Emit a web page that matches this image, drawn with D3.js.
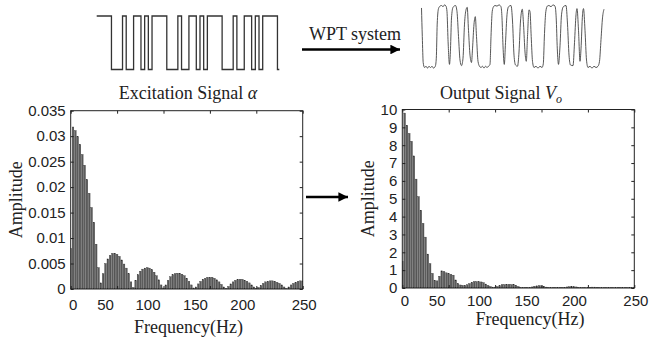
<!DOCTYPE html>
<html>
<head>
<meta charset="utf-8">
<script src="https://cdn.jsdelivr.net/npm/d3@7"></script>
<style>
  html, body { margin: 0; padding: 0; background: #fff; }
  svg { display: block; }
</style>
</head>
<body>
<svg id="fig" width="649" height="343"></svg>
<script>
// ---- data ----

// excitation signal: 15-bit sequence repeated, last bit only partly shown
const inputBits = [
  1,1,1,1,0,0,0,1,0,0,1,1,0,1,0,
  1,1,1,1,0,0,0,1,0,0,1,1,0,1,0,
  1,1,1,1,0,0,0,1,0,0,1,1,0,1,0,
  1,1,1,1,0
];
const inputShownBits = 49.5;

// measured output voltage (time in ms, voltage in V)
const outputTimeMs = [
  15,23,32,45,60,75,90,105,120,135,153,163,172,185,200,215,230,245,260,270,
  280,295,305,315,330,355,370,385,400,415,430,445,460,472,485,500,515,525,540,553,
  565,580,595,610,625,640,655,670,685,700,710,722,735,750,770,790,810,820,830,843,
  855,870,885,910,925,940,955,975,990,1005,1023,1035,1050,1063,1075,1090,1100,1112,1125,1140,
  1160,1180,1200,1220,1233,1245,1258,1273,1290,1310,1330,1350,1362,1373,1385,1400,1415,1433,1460,1475,
  1490,1505,1530,1545,1560,1570,1585,1600,1610,1625,1635,1650,1665,1680,1700,1720,1740,1760,1780,1795,
  1810,1825,1840
];
const outputVolt = [
  9.6,5.0,0.8,0.0,0.2,-0.1,0.2,0.0,0.2,-0.1,0.2,1.5,7.0,9.5,9.9,10.0,9.8,10.1,9.9,9.0,
  4.5,0.5,3.0,8.0,9.7,10.0,9.0,5.0,1.2,0.3,1.5,7.0,9.3,9.7,6.0,2.0,0.8,3.0,7.0,8.2,
  5.0,1.0,0.2,0.0,0.2,-0.1,0.2,0.0,0.2,0.5,5.0,9.0,9.8,10.0,9.9,10.1,9.8,8.0,3.5,0.5,
  4.0,8.5,9.8,10.0,7.5,2.0,0.4,0.2,2.5,7.5,9.4,7.0,2.5,1.0,5.0,9.3,9.0,5.0,1.0,0.0,
  0.2,-0.1,0.2,0.0,0.6,5.5,9.0,9.9,10.0,9.8,10.1,9.9,8.0,3.0,0.5,3.5,8.5,9.8,10.0,7.0,
  2.0,0.4,0.3,4.0,8.5,9.5,6.0,1.0,3.0,8.5,9.5,6.0,1.2,0.0,0.2,-0.1,0.2,0.0,0.2,1.0,
  4.5,8.0,9.4
];

// spectra, one bar every binHz from 0 to 250 Hz
const binHz = 2.5;
const excitationAmp = [
  0.0080,0.0318,0.0311,0.0299,0.0284,0.0264,0.0243,0.0215,0.0188,0.0160,
  0.0131,0.0088,0.0042,0.0012,0.0030,0.0050,0.0059,0.0066,0.0070,0.0070,
  0.0068,0.0064,0.0057,0.0049,0.0041,0.0030,0.0014,0.0003,0.0017,0.0028,
  0.0035,0.0039,0.0041,0.0042,0.0041,0.0038,0.0033,0.0026,0.0018,0.0008,
  0.0002,0.0008,0.0017,0.0024,0.0028,0.0030,0.0031,0.0031,0.0029,0.0026,
  0.0021,0.0015,0.0008,0.0002,0.0004,0.0010,0.0015,0.0019,0.0021,0.0023,
  0.0023,0.0023,0.0021,0.0018,0.0014,0.0009,0.0004,0.0001,0.0005,0.0010,
  0.0014,0.0017,0.0019,0.0019,0.0019,0.0017,0.0015,0.0012,0.0008,0.0004,
  0.0001,0.0003,0.0007,0.0011,0.0014,0.0015,0.0016,0.0016,0.0015,0.0013,
  0.0011,0.0008,0.0004,0.0001,0.0004,0.0008,0.0011,0.0013,0.0015,0.0016,
  0.0016
];
const outputAmp = [
  1.50,9.80,9.12,8.66,8.22,7.40,6.10,5.12,4.36,3.62,
  2.85,1.90,1.36,0.82,0.43,0.40,0.66,0.96,0.92,0.85,
  0.80,0.76,0.72,0.45,0.25,0.17,0.15,0.15,0.18,0.25,
  0.32,0.36,0.36,0.35,0.34,0.30,0.22,0.14,0.08,0.05,
  0.05,0.08,0.13,0.18,0.19,0.20,0.20,0.19,0.18,0.15,
  0.08,0.04,0.03,0.03,0.03,0.04,0.06,0.10,0.12,0.13,
  0.12,0.10,0.05,0.03,0.02,0.02,0.03,0.03,0.02,0.03,
  0.04,0.06,0.07,0.07,0.07,0.06,0.04,0.03,0.02,0.02,
  0.03,0.04,0.05,0.05,0.04,0.03,0.02,0.02,0.03,0.03,
  0.02,0.02,0.02,0.03,0.03,0.02,0.02,0.02,0.03,0.02,
  0.02
];

const freqTicks = [0, 50, 100, 150, 200, 250];
const freqTickLabels = ['0', '50', '100', '150', '200', '250'];
const excTicks = [0, 0.005, 0.01, 0.015, 0.02, 0.025, 0.03, 0.035];
const excTickLabels = ['0', '0.005', '0.01', '0.015', '0.02', '0.025', '0.03', '0.035'];
const outTicks = [0, 1, 2, 3, 4, 5, 6, 7, 8, 9, 10];
const outTickLabels = ['0', '1', '2', '3', '4', '5', '6', '7', '8', '9', '10'];

// ---- layout ----
const svg = d3.select('#fig');
const sans = "'Liberation Sans', Arial, sans-serif";
const serif = "'Liberation Serif', 'Times New Roman', serif";
const ink = '#222';

// the tick labels in the figure sit left of their ticks (px shift per tick)
const labelShift = [2, -12, -16, -15, -14, 1];

svg.append('defs').append('marker')
  .attr('id', 'head')
  .attr('viewBox', '0 0 10 10')
  .attr('refX', 10).attr('refY', 5)
  .attr('markerWidth', 5.5).attr('markerHeight', 4)
  .attr('markerUnits', 'strokeWidth')
  .attr('orient', 'auto')
  .append('path').attr('d', 'M0,0L10,5L0,10Z').attr('fill', '#000');

// excitation square wave
const bitX = d3.scaleLinear().domain([0, inputShownBits]).range([96.7, 279.3]);
const bitY = d3.scaleLinear().domain([0, 1]).range([69.5, 16]);
const bitPts = inputBits.map((b, i) => [i, b]);
bitPts.push([inputShownBits, inputBits[inputBits.length - 1]]);
svg.append('path')
  .attr('d', d3.line().x(d => bitX(d[0])).y(d => bitY(d[1])).curve(d3.curveStepAfter)(bitPts))
  .attr('fill', 'none').attr('stroke', '#333').attr('stroke-width', 1.3);

// output waveform
const tX = d3.scaleLinear().domain([0, 1840]).range([420, 604]);
const vY = d3.scaleLinear().domain([0, 10]).range([67.5, 5.5]);
svg.append('path')
  .attr('d', d3.line().x((d, i) => tX(outputTimeMs[i])).y(d => vY(d)).curve(d3.curveMonotoneX)(outputVolt))
  .attr('fill', 'none').attr('stroke', '#444').attr('stroke-width', 0.9);

// captions
svg.append('text').attr('x', 188).attr('y', 99).attr('text-anchor', 'middle')
  .attr('font-family', serif).attr('font-size', 18).attr('fill', ink)
  .call(t => {
    t.append('tspan').text('Excitation Signal ');
    t.append('tspan').attr('font-style', 'italic').text('α');
  });
svg.append('text').attr('x', 501).attr('y', 99).attr('text-anchor', 'middle')
  .attr('font-family', serif).attr('font-size', 18).attr('fill', ink)
  .call(t => {
    t.append('tspan').text('Output Signal ');
    t.append('tspan').attr('font-style', 'italic').text('V');
    t.append('tspan').attr('font-style', 'italic').attr('font-size', 12).attr('dy', 4).text('o');
  });
svg.append('text').attr('x', 355).attr('y', 40).attr('text-anchor', 'middle')
  .attr('font-family', serif).attr('font-size', 18).attr('fill', ink).text('WPT system');

// arrows
svg.append('line').attr('x1', 302).attr('y1', 49.5).attr('x2', 400).attr('y2', 49.5)
  .attr('stroke', '#000').attr('stroke-width', 2.4).attr('marker-end', 'url(#head)');
svg.append('line').attr('x1', 306).attr('y1', 197).attr('x2', 348).attr('y2', 197)
  .attr('stroke', '#000').attr('stroke-width', 2.4).attr('marker-end', 'url(#head)');

function drawSpectrum(box, amp, yMax, yTicks, yLabels, opt) {
  const g = svg.append('g');
  const x = d3.scaleLinear().domain([0, 250]).range([box.x0, box.x1]);
  const y = d3.scaleLinear().domain([0, yMax]).range([box.y1, box.y0]);
  const bw = (x(binHz) - x(0)) * 0.7;

  const clip = 'clip' + opt.id;
  svg.select('defs').append('clipPath').attr('id', clip)
    .append('rect').attr('x', box.x0).attr('y', box.y0)
    .attr('width', box.x1 - box.x0).attr('height', box.y1 - box.y0);

  g.append('g').attr('clip-path', `url(#${clip})`)
    .selectAll('rect').data(amp).join('rect')
    .attr('x', (d, i) => x(i * binHz) - bw / 2)
    .attr('y', d => y(d))
    .attr('width', bw)
    .attr('height', d => y(0) - y(d))
    .attr('fill', '#5c5c5c')
    .attr('stroke', '#2c2c2c')
    .attr('stroke-width', 0.35);

  const style = sel => {
    sel.select('.domain').remove();
    sel.selectAll('line').attr('stroke', ink);
    sel.selectAll('text').attr('font-family', sans).attr('font-size', opt.tickFont).attr('fill', ink);
  };

  g.append('g').attr('transform', `translate(0,${box.y1})`)
    .call(d3.axisBottom(x).tickValues(freqTicks).tickSize(-3).tickPadding(opt.xPad)
      .tickFormat((d, i) => freqTickLabels[i]))
    .call(style)
    .call(s => s.selectAll('.tick text').attr('dx', (d, i) => labelShift[i]));
  g.append('g').attr('transform', `translate(0,${box.y0})`)
    .call(d3.axisTop(x).tickValues(freqTicks).tickSize(-3).tickFormat(''))
    .call(style);
  g.append('g').attr('transform', `translate(${box.x0},0)`)
    .call(d3.axisLeft(y).tickValues(yTicks).tickSize(-3).tickPadding(5)
      .tickFormat((d, i) => yLabels[i]))
    .call(style);
  g.append('g').attr('transform', `translate(${box.x1},0)`)
    .call(d3.axisRight(y).tickValues(yTicks).tickSize(-3).tickFormat(''))
    .call(style);

  g.append('rect').attr('x', box.x0).attr('y', box.y0)
    .attr('width', box.x1 - box.x0).attr('height', box.y1 - box.y0)
    .attr('fill', 'none').attr('stroke', ink).attr('stroke-width', 1);

  g.append('text')
    .attr('transform', `translate(${opt.yTitleX},${(box.y0 + box.y1) / 2}) rotate(-90)`)
    .attr('text-anchor', 'middle').attr('dy', '0.35em')
    .attr('font-family', serif).attr('font-size', 18).attr('fill', ink)
    .text('Amplitude');
  g.append('text')
    .attr('x', opt.xTitleX).attr('y', opt.xTitleY).attr('text-anchor', 'middle')
    .attr('font-family', serif).attr('font-size', 18).attr('fill', ink)
    .text('Frequency(Hz)');
}

drawSpectrum({ x0: 70.7, x1: 302.7, y0: 110.7, y1: 289 }, excitationAmp, 0.035,
  excTicks, excTickLabels,
  { id: 'a', tickFont: 15, xPad: 10, yTitleX: 15.5, xTitleX: 188.5, xTitleY: 333 });
drawSpectrum({ x0: 402.3, x1: 634.3, y0: 109.5, y1: 288 }, outputAmp, 10,
  outTicks, outTickLabels,
  { id: 'b', tickFont: 15, xPad: 7, yTitleX: 368, xTitleX: 530, xTitleY: 325 });
</script>
</body>
</html>
